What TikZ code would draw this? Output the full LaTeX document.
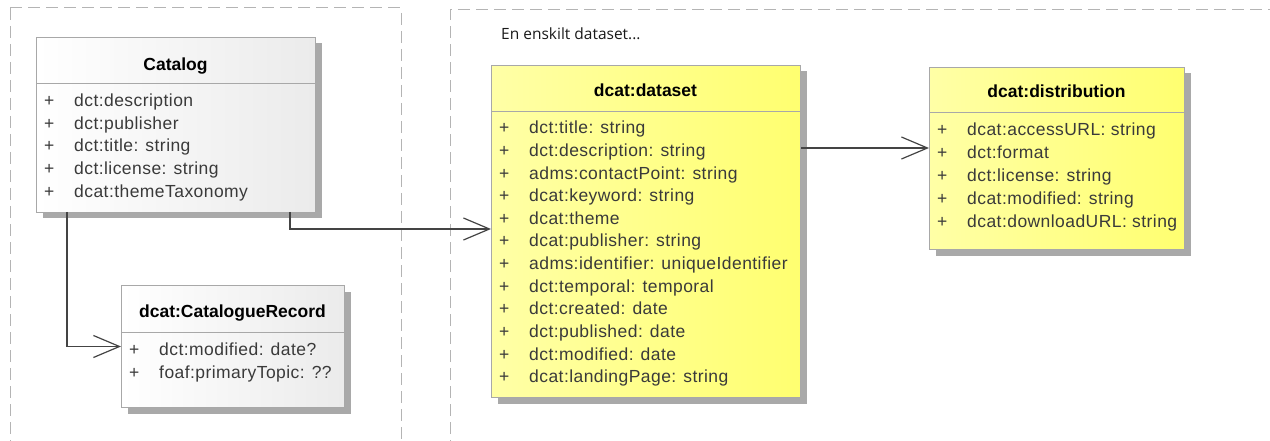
\documentclass[tikz,border=0pt]{standalone}
\usepackage{fontspec}
\setmainfont{Liberation Sans}
\newfontfamily\attrfont{Liberation Sans}[LetterSpace=2.5]
\newfontfamily\notefont{Open Sans}
\usetikzlibrary{arrows.meta,shadows}
\definecolor{framegray}{HTML}{B4B4B4}
\definecolor{boxborder}{HTML}{A8A8A8}
\definecolor{shadowgray}{HTML}{A9A9A9}
\definecolor{linecol}{HTML}{444444}
\definecolor{attrcol}{HTML}{3A3A3A}
\definecolor{yelL}{HTML}{FFFFA6}
\definecolor{yelR}{HTML}{FFFF70}
\definecolor{grayL}{HTML}{FFFFFF}
\definecolor{grayR}{HTML}{EBEBEB}
\tikzset{
  frame/.style={draw=framegray, line width=1pt, dash pattern=on 12pt off 6pt},
  classbox/.style={draw=boxborder, line width=1pt, anchor=north west, inner sep=0pt,
    drop shadow={shadow xshift=6pt, shadow yshift=-6pt, fill=shadowgray, opacity=1}},
  whitebox/.style={classbox, left color=grayL, right color=grayR},
  yellowbox/.style={classbox, left color=yelL, right color=yelR},
  sepline/.style={draw=boxborder, line width=1pt},
  title/.style={anchor=base, inner sep=0pt, font=\fontsize{17.5}{20}\selectfont\bfseries, text=black},
  attr/.style={anchor=base west, inner sep=0pt, font=\attrfont\fontsize{17.5}{20}\selectfont, text=attrcol},
  assoc/.style={draw=linecol, line width=1.3pt, -{Straight Barb[length=26pt,width=22pt,line width=1.2pt]}},
}
\begin{document}
\begin{tikzpicture}[x=1pt,y=-1pt]
\useasboundingbox (0,0) rectangle (1270,441);
% frames
\draw[frame] (10,8) -- (401,8) -- (401,470);
\draw[frame] (10,8) -- (10,470);
\draw[frame] (450,470) -- (450,10) -- (1300,10);
\node[anchor=base west, inner sep=0pt, font=\notefont\fontsize{15.5}{18}\selectfont, text=black!90] (note) at (501,40) {En enskilt dataset...};

% Catalog
\node[whitebox, minimum width=279pt, minimum height=175pt] (catalog) at (36,37) {};
\draw[sepline] (36,84) -- (315,84);
\node[title] (catalogT) at (175.5,70.5) {Catalog};
\foreach \t [count=\i from 0] in {dct:description, dct:publisher, dct:title: string, dct:license: string, dcat:themeTaxonomy}{
  \node[attr] (catP\i) at (44,107+22.5*\i) {+};
  \node[attr] (catA\i) at (74,107+22.5*\i) {\t};
}

% CatalogueRecord
\node[whitebox, minimum width=223pt, minimum height=122pt] (record) at (121,285) {};
\draw[sepline] (121,332) -- (344,332);
\node[title] (recordT) at (232.5,317) {dcat:CatalogueRecord};
\foreach \t [count=\i from 0] in {dct:modified: date?, foaf:primaryTopic: ??}{
  \node[attr] (recP\i) at (129,355+23*\i) {+};
  \node[attr] (recA\i) at (159,355+23*\i) {\t};
}

% dataset
\node[yellowbox, minimum width=309pt, minimum height=332pt] (dataset) at (491,65) {};
\draw[sepline] (491,112) -- (800,112);
\node[title] (datasetT) at (645.5,97) {dcat:dataset};
\foreach \t [count=\i from 0] in {dct:title: string, dct:description: string, adms:contactPoint: string, dcat:keyword: string, dcat:theme, dcat:publisher: string, adms:identifier: uniqueIdentifier, dct:temporal: temporal, dct:created: date, dct:published: date, dct:modified: date, dcat:landingPage: string}{
  \node[attr] (dsP\i) at (499,134+22.6*\i) {+};
  \node[attr] (dsA\i) at (529,134+22.6*\i) {\t};
}

% distribution
\node[yellowbox, minimum width=255pt, minimum height=182pt] (distribution) at (929,67) {};
\draw[sepline] (929,113) -- (1184,113);
\node[title] (distT) at (1056.5,98) {dcat:distribution};
\foreach \t [count=\i from 0] in {dcat:accessURL: string, dct:format, dct:license: string, dcat:modified: string, dcat:downloadURL: string}{
  \node[attr] (diP\i) at (937,136+22.75*\i) {+};
  \node[attr] (diA\i) at (967,136+22.75*\i) {\t};
}

% connectors
\coordinate (c1) at (67,212);
\coordinate (c2) at (290,212);
\coordinate (r1) at (0,229);
\coordinate (r2) at (0,148);
\draw[assoc] (c1) |- (record.west);
\draw[assoc] (c2) |- (dataset.west |- r1);
\draw[assoc] (dataset.east |- r2) -- (distribution.west |- r2);
\end{tikzpicture}
\end{document}
